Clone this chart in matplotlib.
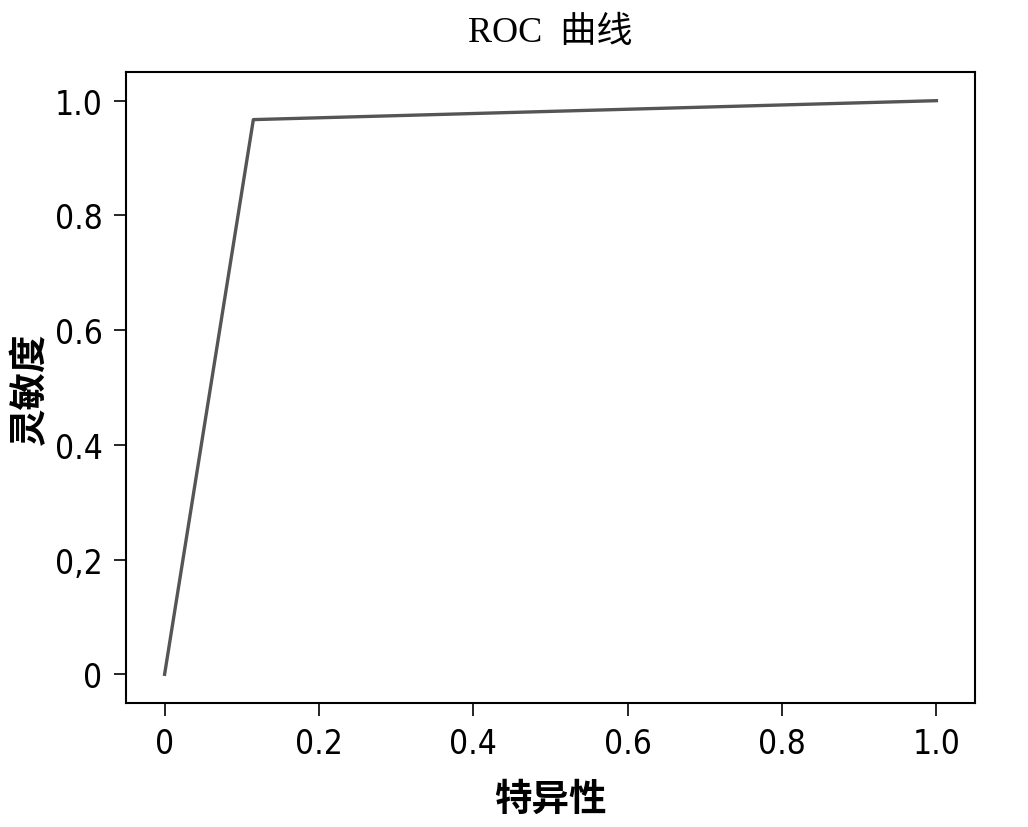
import matplotlib.pyplot as plt

# ROC 数据
fpr = [0.0, 0.115, 1.0]
tpr = [0.0, 0.967, 1.0]

x_ticks = [0, 0.2, 0.4, 0.6, 0.8, 1.0]
x_labels = ['0', '0.2', '0.4', '0.6', '0.8', '1.0']
y_ticks = [0, 0.2, 0.4, 0.6, 0.8, 1.0]
y_labels = ['0', '0,2', '0.4', '0.6', '0.8', '1.0']

cjk = ['Noto Sans CJK SC', 'DejaVu Sans']

fig = plt.figure(figsize=(10.28, 8.28), dpi=100)
ax = fig.add_axes([126/1028, 1 - 704/828, (975-126)/1028, (704-73)/828])

ax.plot(fpr, tpr, color='#555555', linewidth=2.4)

ax.set_xlim(-0.05, 1.05)
ax.set_ylim(-0.05, 1.05)

ax.set_xticks(x_ticks)
ax.set_xticklabels(x_labels, family='DejaVu Sans', stretch='condensed', fontsize=24)
ax.set_yticks(y_ticks)
ax.set_yticklabels(y_labels, family='DejaVu Sans', stretch='condensed', fontsize=24)
ax.tick_params(length=9, width=1.2, pad=8)

for s in ax.spines.values():
    s.set_linewidth(1.5)

ax.set_xlabel('特异性', family=cjk, fontsize=27, fontweight='bold', labelpad=14)
ax.set_ylabel('灵敏度', family=cjk, fontsize=27, fontweight='bold', labelpad=4)
ax.set_title('ROC  曲线', family=['Liberation Serif', 'Noto Sans CJK SC'],
             fontsize=26, pad=22)

plt.savefig('out.png', dpi=100)
